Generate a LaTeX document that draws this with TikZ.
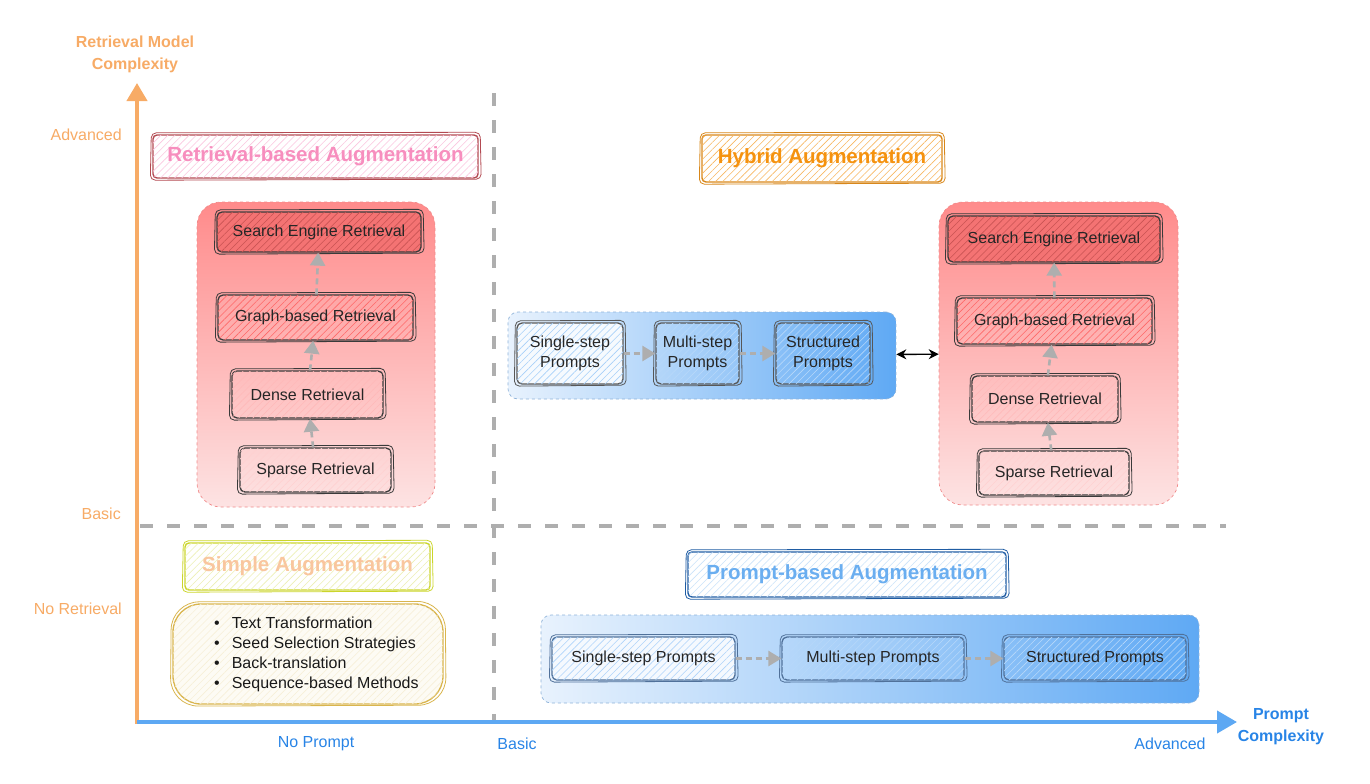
\documentclass[tikz,border=0pt]{standalone}
\usepackage{fontspec}
\setmainfont{Liberation Sans}
\usetikzlibrary{arrows.meta,patterns.meta}
\definecolor{axor}{HTML}{F7AB66}
\definecolor{axbl}{HTML}{5DA8F3}
\definecolor{lblbl}{HTML}{2884E6}
\definecolor{dgray}{HTML}{AEAEAE}
\definecolor{redtop}{HTML}{FF8B8B}
\definecolor{redbot}{HTML}{FDE3E3}
\definecolor{redbd}{HTML}{F08A8A}
\definecolor{redbox}{HTML}{F47373}
\definecolor{bluel}{HTML}{E8F2FD}
\definecolor{bluer}{HTML}{5FA9F4}
\definecolor{bluebd}{HTML}{8FB3D9}
\definecolor{ink}{HTML}{3A3A3A}
\definecolor{rtbd}{HTML}{B34A52}
\definecolor{rttx}{HTML}{F78EBE}
\definecolor{hybd}{HTML}{D8871A}
\definecolor{hytx}{HTML}{F5920E}
\definecolor{sibd}{HTML}{CBD52B}
\definecolor{sitx}{HTML}{F9C69E}
\definecolor{libd}{HTML}{D9B54E}
\definecolor{ptbd}{HTML}{1F5CA3}
\definecolor{pttx}{HTML}{6AAEF0}
\definecolor{pbbd}{HTML}{50719A}
\newcommand{\skline}[2]{\draw[#2,line width=0.8pt,rounded corners=5pt] ([shift={(-2pt,-1.5pt)}]#1.south west) -- ([shift={(2.5pt,-0.5pt)}]#1.south east) -- ([shift={(1.5pt,2pt)}]#1.north east) -- ([shift={(-1pt,1.5pt)}]#1.north west) -- cycle;}
\begin{document}
\begin{tikzpicture}[x=1pt,y=-1pt,
  hatch/.style={postaction={pattern={Lines[angle=45,distance=5pt,line width=0.6pt]},pattern color=#1}},
  ttl/.style={draw=#1, line width=1.4pt, rounded corners=4pt, inner sep=0pt, font=\fontsize{20.5}{24}\selectfont\bfseries},
  ibox/.style={draw=#1, line width=1.3pt, rounded corners=5pt, inner sep=0pt, align=center, font=\fontsize{16}{20}\selectfont, text=black!85},
  rcont/.style={draw=redbd, dashed, line width=0.7pt, rounded corners=24pt, top color=redtop, bottom color=redbot},
  bcont/.style={draw=bluebd, dashed, line width=0.7pt, rounded corners=10pt, left color=bluel, right color=bluer},
  garrow/.style={draw=dgray, line width=2.6pt, dash pattern=on 6pt off 4pt, -{Triangle[width=15pt,length=13pt]}},
  axlab/.style={font=\fontsize{16}{19}\selectfont, inner sep=0pt},
  gdash/.style={draw=dgray, line width=3.5pt, dash pattern=on 13pt off 14pt}
]
\useasboundingbox (0,0) rectangle (1370,784);

% dashed quadrant lines
\coordinate (vd1) at (494,93); \coordinate (vd2) at (494,722);
\coordinate (hd1) at (140,526); \coordinate (hd2) at (1226,526);
\draw[gdash] (vd1) -- (vd2);
\draw[gdash] (hd1) -- (hd2);

% axes
\coordinate (o) at (137,722);
\coordinate (ytip) at (137,83);
\coordinate (xtip) at (1237,722);
\draw[axor, line width=4pt, -{Triangle[width=20pt,length=18pt]}] ([yshift=-2pt]o) -- (ytip);
\draw[axbl, line width=4pt, -{Triangle[width=22pt,length=20pt]}] (o) -- (xtip);

\node[axlab, font=\fontsize{16}{22}\selectfont\bfseries, text=axor, align=center] (ytitle) at (135,54) {Retrieval Model\\Complexity};
\node[axlab, text=axor, anchor=east] (yadv) at (122,135) {Advanced};
\node[axlab, text=axor, anchor=east] (ybas) at (121,514) {Basic};
\node[axlab, text=axor, anchor=east] (ynor) at (122,609) {No Retrieval};
\node[axlab, font=\fontsize{16}{22}\selectfont\bfseries, text=lblbl, align=center] (xtitle) at (1281,727) {Prompt\\Complexity};
\node[axlab, text=lblbl] (xnop) at (316,744) {No Prompt};
\node[axlab, text=lblbl] (xbas) at (517,744) {Basic};
\node[axlab, text=lblbl] (xadv) at (1170,744) {Advanced};

% ---------- Retrieval-based (top-left)
\node[ttl=rtbd, text=rttx, fill=white, hatch=rttx!50, minimum width=325pt, minimum height=43pt] (rbtitle) at (315.5,156.5) {Retrieval-based Augmentation};
\skline{rbtitle}{rtbd}
\node[rcont, minimum width=238pt, minimum height=305pt] (lcont) at (316,354.5) {};
\node[ibox=ink, fill=redbox, hatch=redbox!80!black!90!red, minimum width=204pt, minimum height=40pt] (lsearch) at (319,232) {Search Engine Retrieval};
\node[ibox=ink, hatch=redtop!75!red, minimum width=195pt, minimum height=45pt] (lgraph) at (315.5,317.5) {Graph-based Retrieval};
\node[ibox=ink, hatch=redtop!60, minimum width=151pt, minimum height=47pt] (ldense) at (307.5,394.5) {Dense Retrieval};
\node[ibox=ink, hatch=redtop!40, minimum width=151pt, minimum height=44pt] (lsparse) at (315.5,470) {Sparse Retrieval};
\skline{lsearch}{ink}\skline{lgraph}{ink}\skline{ldense}{ink}\skline{lsparse}{ink}
\draw[garrow] (lsparse) -- (ldense);
\draw[garrow] (ldense) -- (lgraph);
\draw[garrow] (lgraph) -- (lsearch);

% ---------- Hybrid (top-right)
\node[ttl=hybd, text=hytx, fill=white, hatch=hytx!65, minimum width=240pt, minimum height=47pt] (hytitle) at (822,158.5) {Hybrid Augmentation};
\skline{hytitle}{hybd}
\node[bcont, minimum width=388pt, minimum height=87pt] (mcont) at (702,355.5) {};
\node[ibox=ink!85, fill=white!60!bluel, hatch=white!45!bluer, minimum width=106pt, minimum height=61pt] (msingle) at (570,353.5) {Single-step\\Prompts};
\node[ibox=ink!85, hatch=white!55!bluer, minimum width=83pt, minimum height=61pt] (mmulti) at (697.5,353.5) {Multi-step\\Prompts};
\node[ibox=ink!85, hatch=white!55!bluer, minimum width=94pt, minimum height=61pt] (mstruct) at (823,353.5) {Structured\\Prompts};
\skline{msingle}{ink!85}\skline{mmulti}{ink!85}\skline{mstruct}{ink!85}
\draw[garrow] (msingle) -- (mmulti);
\draw[garrow] (mmulti) -- (mstruct);

\node[rcont, minimum width=239pt, minimum height=303pt] (rcont) at (1058.5,353.5) {};
\node[ibox=ink, fill=redbox, hatch=redbox!80!black!90!red, minimum width=212pt, minimum height=46pt] (rsearch) at (1054,239) {Search Engine Retrieval};
\node[ibox=ink, hatch=redtop!75!red, minimum width=195pt, minimum height=46pt] (rgraph) at (1054.5,321) {Graph-based Retrieval};
\node[ibox=ink, hatch=redtop!60, minimum width=146pt, minimum height=46pt] (rdense) at (1045,399) {Dense Retrieval};
\node[ibox=ink, hatch=redtop!40, minimum width=150pt, minimum height=44pt] (rsparse) at (1054,473) {Sparse Retrieval};
\skline{rsearch}{ink}\skline{rgraph}{ink}\skline{rdense}{ink}\skline{rsparse}{ink}
\draw[garrow] (rsparse) -- (rdense);
\draw[garrow] (rdense) -- (rgraph);
\draw[garrow] (rgraph) -- (rsearch);

\draw[black, line width=1.4pt, {Stealth[length=10pt,width=10pt]}-{Stealth[length=10pt,width=10pt]}] (mcont) -- (rcont);

% ---------- Simple (bottom-left)
\node[ttl=sibd, text=sitx, fill=white, hatch=sibd!35, minimum width=245pt, minimum height=47pt] (sititle) at (307.5,566.5) {Simple Augmentation};
\skline{sititle}{sibd}
\node[draw=libd, line width=1.3pt, rounded corners=28pt, fill=libd!6, hatch=libd!22, minimum width=270pt, minimum height=100pt] (slist) at (308,654) {};
\draw[libd, line width=0.8pt, rounded corners=28pt] ([shift={(-2pt,-1.5pt)}]slist.south west) -- ([shift={(2.5pt,-0.5pt)}]slist.south east) -- ([shift={(1.5pt,2pt)}]slist.north east) -- ([shift={(-1pt,1.5pt)}]slist.north west) -- cycle;
\node[anchor=west, align=left, inner sep=0pt, font=\fontsize{16}{20}\selectfont, text=black!90] (sitems) at (214,654.5)
 {\textbullet\hspace{12pt}Text Transformation\\
  \textbullet\hspace{12pt}Seed Selection Strategies\\
  \textbullet\hspace{12pt}Back-translation\\
  \textbullet\hspace{12pt}Sequence-based Methods};

% ---------- Prompt-based (bottom-right)
\node[ttl=ptbd, text=pttx, fill=white, hatch=pttx!35, minimum width=318pt, minimum height=45pt] (pbtitle) at (847,574.5) {Prompt-based Augmentation};
\skline{pbtitle}{ptbd}
\node[bcont, minimum width=658pt, minimum height=88pt] (pcont) at (870,659) {};
\node[ibox=pbbd, fill=white!55!bluel, hatch=white!50!bluer, minimum width=183pt, minimum height=43pt] (psingle) at (643.5,658.5) {Single-step Prompts};
\node[ibox=pbbd, hatch=white!55!bluer, minimum width=182pt, minimum height=43pt] (pmulti) at (873,658.5) {Multi-step Prompts};
\node[ibox=pbbd, hatch=white!55!bluer, minimum width=182pt, minimum height=43pt] (pstruct) at (1095,658.5) {Structured Prompts};
\skline{psingle}{pbbd}\skline{pmulti}{pbbd}\skline{pstruct}{pbbd}
\draw[garrow] (psingle) -- (pmulti);
\draw[garrow] (pmulti) -- (pstruct);
\end{tikzpicture}
\end{document}
